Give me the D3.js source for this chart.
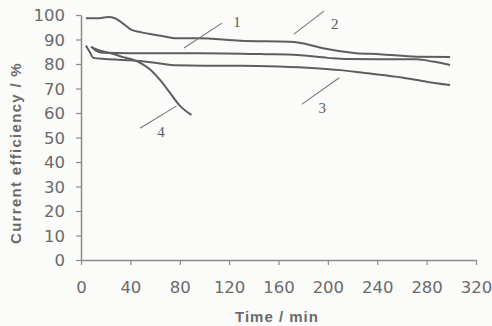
<!DOCTYPE html>
<html>
<head>
<meta charset="utf-8">
<script src="https://cdn.jsdelivr.net/npm/d3@7"></script>
<style>
  body { margin: 0; background: #fbfbfa; }
  svg { display: block; }
</style>
</head>
<body>
<div id="chart"></div>
<script>
// curve data: [time (min), current efficiency (%)]
var curve1 = [[4,98.7],[15,98.7],[22,99.2],[27.5,98.7],[35.6,95.9],[41,93.9],[49,92.9],[65,91.5],[76,90.5],[95,90.5],[129,89.5],[169,89.1],[177,88.7],[196,86.4],[223,84.4],[242,84],[272,83],[299,82.9]];
var curve2 = [[8.5,87],[12,85.5],[18,84.6],[40,84.4],[96,84.4],[150,84],[175,83.7],[200,82.5],[215,82],[272,81.9],[285,81],[299,79.6]];
var curve3 = [[4,87.5],[7,85],[10,82.5],[20,82],[40,81.5],[60,80.5],[75,79.5],[100,79.3],[130,79.3],[160,79],[190,78.3],[210,77.5],[230,76.3],[260,74.5],[280,72.8],[299,71.4]];
var curve4 = [[8,87],[15,85.5],[25,84.3],[35,82.7],[42,81.8],[49,80.2],[56,77.8],[64,73.5],[72,68.3],[80,63],[89.5,59.2]];

var xTicks = [0, 40, 80, 120, 160, 200, 240, 280, 320];
var yTicks = [0, 10, 20, 30, 40, 50, 60, 70, 80, 90, 100];

// curve labels: text position and leader line ends, in data units
var labelText = ['1', '2', '3', '4'];
var labelPos = [[126.4, 97.1], [205.6, 96.3], [195.5, 62.3], [64.8, 52.2]];
var leaderFrom = [[83.4, 86.5], [172.5, 92.2], [209.2, 74.4], [77.5, 62.9]];
var leaderTo = [[114.2, 96.7], [196.8, 101.6], [178.8, 63.5], [47.8, 53.8]];

var width = 492, height = 326;
var margin = {left: 81, right: 16, top: 15, bottom: 66};

var svg = d3.select('#chart').append('svg')
    .attr('width', width)
    .attr('height', height);

var x = d3.scaleLinear().domain([0, 320]).range([margin.left, width - margin.right]);
var y = d3.scaleLinear().domain([0, 100]).range([height - margin.bottom, margin.top]);

var axisColor = '#8a8a8a';
var textColor = '#6a6a6a';

// x axis
var gx = svg.append('g')
    .attr('transform', 'translate(0,' + y(0) + ')')
    .call(d3.axisBottom(x).tickValues(xTicks).tickSize(5).tickPadding(16).tickSizeOuter(0));
// y axis
var gy = svg.append('g')
    .attr('transform', 'translate(' + x(0) + ',0)')
    .call(d3.axisLeft(y).tickValues(yTicks).tickSize(5).tickPadding(11).tickSizeOuter(0));

[gx, gy].forEach(function(g) {
    g.select('.domain').attr('stroke', axisColor).attr('stroke-width', 1.5);
    g.selectAll('.tick line').attr('stroke', axisColor).attr('stroke-width', 1.2);
    g.selectAll('.tick text')
        .attr('fill', textColor)
        .style('font-family', '"DejaVu Sans", sans-serif')
        .style('font-size', '16.5px');
});
gy.selectAll('.tick text').attr('dy', '0.36em');
gx.selectAll('.tick text').attr('dy', '0.75em');

// axis titles
svg.append('text')
    .attr('x', 277)
    .attr('y', 322)
    .attr('text-anchor', 'middle')
    .attr('fill', textColor)
    .style('font-family', 'Arial, "Liberation Sans", sans-serif')
    .style('font-weight', 'bold')
    .style('font-size', '15px')
    .style('letter-spacing', '1px')
    .text('Time / min');

svg.append('text')
    .attr('transform', 'translate(21,153) rotate(-90)')
    .attr('text-anchor', 'middle')
    .attr('fill', textColor)
    .style('font-family', 'Arial, "Liberation Sans", sans-serif')
    .style('font-weight', 'bold')
    .style('font-size', '15px')
    .style('letter-spacing', '1.3px')
    .text('Current efficiency / %');

// curves
var line = d3.line()
    .x(function(d) { return x(d[0]); })
    .y(function(d) { return y(d[1]); })
    .curve(d3.curveMonotoneX);

[curve1, curve2, curve3, curve4].forEach(function(c) {
    svg.append('path')
        .datum(c)
        .attr('fill', 'none')
        .attr('stroke', '#5e5e5e')
        .attr('stroke-width', 2)
        .attr('d', line);
});

// leader lines and curve numbers
labelText.forEach(function(t, i) {
    svg.append('line')
        .attr('x1', x(leaderFrom[i][0])).attr('y1', y(leaderFrom[i][1]))
        .attr('x2', x(leaderTo[i][0])).attr('y2', y(leaderTo[i][1]))
        .attr('stroke', '#777')
        .attr('stroke-width', 1.1);
    svg.append('text')
        .attr('x', x(labelPos[i][0]))
        .attr('y', y(labelPos[i][1]))
        .attr('dy', '0.35em')
        .attr('text-anchor', 'middle')
        .attr('fill', '#5a5a5a')
        .style('font-family', '"Liberation Serif", "DejaVu Serif", serif')
        .style('font-size', '15px')
        .text(t);
});
</script>
</body>
</html>
